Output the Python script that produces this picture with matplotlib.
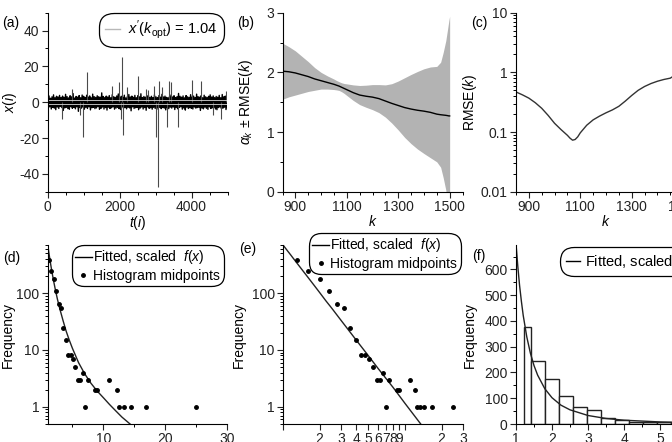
import numpy as np
import matplotlib.pyplot as plt
from matplotlib.lines import Line2D
from matplotlib.ticker import MultipleLocator, FixedLocator, NullFormatter, FuncFormatter

plt.rcParams['font.family'] = ['Liberation Sans', 'DejaVu Sans']
plt.rcParams['mathtext.fontset'] = 'custom'
plt.rcParams['mathtext.rm'] = 'Liberation Sans'
plt.rcParams['mathtext.it'] = 'Liberation Sans:italic'
plt.rcParams['axes.unicode_minus'] = False
plt.rcParams['font.size'] = 10

# (a) time series: background noise samples and the large excursions
noise = [
    2.8, -3.1, 3.5, -2.6, 2.2, -3.8, 3.0, -2.9, 4.1, -3.3, 2.5, -4.2, 3.3, -2.7, 2.9, -3.5,
    3.8, -2.4, 2.6, -3.0, 3.4, -4.6, 2.7, -3.2, 4.4, -2.8, 3.1, -3.6, 2.4, -3.9, 3.6, -2.5,
    3.0, -3.4, 4.8, -2.9, 2.3, -3.7, 3.2, -2.6, 2.8, -5.1, 3.7, -3.0, 2.5, -3.3, 4.0, -2.7,
    3.3, -3.9, 2.6, -2.8, 3.9, -3.5, 2.9, -2.6, 3.5, -4.3, 2.4, -3.1, 4.5, -2.9, 3.1, -3.6,
    2.7, -3.2, 3.6, -2.5, 3.0, -4.0, 2.8, -3.4, 5.2, -2.7, 3.2, -3.8, 2.6, -3.0, 3.4, -4.4,
    2.9, -2.8, 3.7, -3.5, 2.5, -3.1, 4.2, -2.6, 3.0, -3.9, 2.7, -3.3, 3.5, -2.9, 4.6, -3.6,
    2.6, -4.1, 3.3, -2.7, 2.8, -3.4, 3.9, -3.0, 2.4, -3.7, 3.1, -2.8, 4.3, -3.2, 2.9, -4.8,
    3.4, -2.6, 2.7, -3.5, 3.8, -3.1, 2.5, -2.9, 3.6, -4.2, 3.0, -3.3, 4.7, -2.7, 2.6, -3.8,
    3.2, -3.0, 2.8, -4.5, 3.5, -2.6, 3.9, -3.4, 2.7, -3.1, 3.3, -3.9, 2.5, -2.8, 4.1, -3.5,
    3.0, -3.2, 2.6, -4.0, 3.7, -2.9, 2.8, -3.6, 4.4, -3.0, 2.9, -3.3, 3.4, -4.3, 2.7, -3.1,
    2.5, -3.6, 3.2, -2.8, 4.0, -3.3, 2.9, -2.7, 3.6, -4.1, 2.6, -3.0, 3.1, -3.7, 4.9, -2.9,
    3.3, -2.6, 2.8, -3.9, 3.5, -3.2, 2.4, -4.4, 3.7, -2.8, 3.0, -3.5, 2.7, -3.1, 4.2, -3.4,
    2.9, -3.8, 3.4, -2.7, 2.6, -3.3, 4.5, -3.0, 3.1, -2.9, 2.8, -4.6, 3.6, -3.2, 2.5, -3.7,
    3.9, -2.8, 3.0, -3.4, 2.7, -4.0, 3.3, -2.6, 4.1, -3.5, 2.9, -3.1, 3.5, -2.9, 2.6, -3.8,
    3.2, -4.2, 2.8, -3.0, 3.8, -2.7, 2.5, -3.6, 4.3, -3.3, 3.0, -2.8, 3.4, -4.1, 2.9, -3.2,
]
spike_t = [408, 668, 900, 993, 1104, 1781, 1994, 2045, 2069, 2106, 2199, 2523, 2727, 2800,
           2959, 3015, 3080, 3108, 3182, 3330, 3386, 3432, 3627, 4008, 4267, 4610, 4815, 4953]
spike_x = [-9.3, 7.4, -7.4, -19.5, 17.1, 9.0, 11.2, -9.3, 25.5, -18.6, 8.7, 14.5, 7.4, 7.0,
           9.3, -19.2, -47.4, 12.0, 8.4, -13.6, 12.0, 11.2, -14.0, 12.6, 12.0, -7.4, -9.3, 6.5]
x_opt = 1.04

# (b), (c) estimator versus k
k_vals = [850, 875, 900, 925, 950, 975, 1000, 1025, 1050, 1060, 1070, 1080, 1090, 1100,
          1125, 1150, 1175, 1200, 1225, 1250, 1275, 1300, 1325, 1350, 1375, 1400, 1425,
          1450, 1465, 1475, 1485, 1492, 1497, 1500]
alpha_k = [2.02, 2.01, 1.99, 1.96, 1.93, 1.89, 1.86, 1.83, 1.80, 1.785, 1.77, 1.75, 1.73, 1.71,
           1.66, 1.62, 1.60, 1.585, 1.56, 1.52, 1.48, 1.445, 1.41, 1.385, 1.365, 1.35, 1.33,
           1.30, 1.29, 1.285, 1.28, 1.275, 1.27, 1.27]
rmse_k = [0.47, 0.42, 0.37, 0.31, 0.25, 0.19, 0.14, 0.11, 0.088, 0.079, 0.073, 0.075, 0.083, 0.097,
          0.13, 0.16, 0.185, 0.21, 0.235, 0.27, 0.33, 0.41, 0.50, 0.58, 0.65, 0.71, 0.76,
          0.80, 0.88, 1.05, 1.25, 1.45, 1.60, 1.67]

# (d)-(f) histogram of the tail
bin_lo = [1.22, 1.41, 1.80, 2.19, 2.58, 2.97, 3.36, 3.75, 4.14, 4.53, 4.92, 5.31, 5.70,
          6.09, 6.48, 6.87, 7.26, 8.43, 8.82, 10.77, 11.94, 12.33, 13.11, 14.28, 16.62, 24.81]
bin_hi = [1.41, 1.80, 2.19, 2.58, 2.97, 3.36, 3.75, 4.14, 4.53, 4.92, 5.31, 5.70, 6.09,
          6.48, 6.87, 7.26, 7.65, 8.82, 9.21, 11.16, 12.33, 12.72, 13.50, 14.67, 17.01, 25.20]
counts = [375, 245, 175, 110, 65, 55, 24, 15, 8, 8, 7, 5, 3, 3, 4, 1, 3, 2, 2, 3, 2, 1, 1, 1, 1, 1]

# fitted curves
d_fit_x = [1.05, 1.2, 1.4, 1.6, 1.8, 2.0, 2.3, 2.6, 3.0, 3.5, 4.0, 4.5, 5.0, 6.0, 7.0,
           8.0, 9.0, 10.0, 11.0, 12.0, 13.0, 14.3]
d_fit_y = [700, 530, 380, 280, 210, 160, 110, 78, 52, 33, 21.5, 15, 10.8, 6.0, 3.8,
           2.6, 1.9, 1.45, 1.1, 0.85, 0.66, 0.5]
fit_x = [1.0, 1.05, 1.1, 1.15, 1.2, 1.3, 1.4, 1.5, 1.6, 1.8, 2.0, 2.25, 2.5, 3.0, 3.5, 4.0,
         5.0, 6.0, 8.0, 10.0, 13.5]
fit_y = [700, 612, 537, 476, 422, 338, 275, 227, 190, 137, 102, 73, 55, 33, 21.5, 14.8,
         8.0, 4.8, 2.2, 1.16, 0.5]

W, H = 672, 442
fig = plt.figure(figsize=(W / 100, H / 100), dpi=100)


def add_panel(left, top, w=180, h=179):
    ax = fig.add_axes([left / W, (H - top - h) / H, w / W, h / H])
    for s in ('top', 'right'):
        ax.spines[s].set_visible(False)
    for s in ('left', 'bottom'):
        ax.spines[s].set_linewidth(0.8)
    ax.tick_params(which='major', direction='out', length=4, width=0.8, pad=2, labelsize=10,
                   colors='#222222')
    ax.tick_params(which='minor', direction='out', length=2, width=0.7)
    return ax


def pill_legend(ax, handles, labels, loc, anchor, rounding=1.0, hl=1.1, htp=0.3, bp=0.35,
                fs=10.5):
    leg = ax.legend(handles, labels, loc=loc, bbox_to_anchor=anchor, borderaxespad=0,
                    fontsize=fs, handlelength=hl, handletextpad=htp, labelspacing=0.15,
                    borderpad=bp, frameon=True, fancybox=True, framealpha=1)
    fr = leg.get_frame()
    fr.set_edgecolor('black')
    fr.set_linewidth(0.9)
    fr.set_boxstyle('round', pad=0, rounding_size=rounding)
    return leg


def panel_letter(x, y, s):
    fig.text(x / W, 1 - y / H, s, fontsize=10, ha='left', va='center')


fmt_g = FuncFormatter(lambda v, p: '%g' % v)

# (a)
ax = add_panel(47.5, 12.7)
ax.plot(np.linspace(0, 5000, len(noise)), noise, color='black', lw=1.0)
ax.vlines(spike_t, 0, spike_x, color='#4a4a4a', lw=0.8)
ax.axhline(x_opt, color='#d8d8d8', lw=0.6)
ax.axhline(-x_opt, color='#d8d8d8', lw=0.6)
ax.set_xlim(0, 5000)
ax.set_ylim(-50, 50)
ax.xaxis.set_major_locator(MultipleLocator(2000))
ax.xaxis.set_minor_locator(MultipleLocator(500))
ax.yaxis.set_major_locator(MultipleLocator(20))
ax.yaxis.set_minor_locator(MultipleLocator(10))
ax.set_xlabel('$t$($i$)', labelpad=0)
ax.set_ylabel('$x$($i$)')
ax.yaxis.set_label_coords(-0.161, 0.5)
pill_legend(ax, [Line2D([], [], color='#b8b8b8', lw=1)], [r"$x'(k_{\rm opt})$ = 1.04"],
            'upper right', (0.978, 1.0), hl=1.0, htp=0.6, bp=0.4)
panel_letter(2, 23, '(a)')

# (b)
ax = add_panel(282.5, 12.7)
lo = np.array(alpha_k) - np.array(rmse_k)
hi = np.array(alpha_k) + np.array(rmse_k)
ax.fill_between(k_vals, lo, hi, color='#b3b3b3', lw=0)
ax.plot(k_vals, alpha_k, color='black', lw=1)
ax.set_xlim(850, 1550)
ax.set_ylim(0, 3)
ax.xaxis.set_major_locator(FixedLocator([900, 1100, 1300, 1500]))
ax.xaxis.set_minor_locator(MultipleLocator(50))
ax.yaxis.set_major_locator(MultipleLocator(1))
ax.yaxis.set_minor_locator(MultipleLocator(0.5))
ax.set_xlabel('$k$', labelpad=0)
ax.set_ylabel(r'$\alpha_k$ ± RMSE($k$)')
ax.yaxis.set_label_coords(-0.153, 0.5)
panel_letter(237, 23, '(b)')

# (c)
ax = add_panel(516, 12.7)
ax.plot(k_vals, rmse_k, color='#333333', lw=1)
ax.set_yscale('log')
ax.set_xlim(850, 1550)
ax.set_ylim(0.01, 10)
ax.xaxis.set_major_locator(FixedLocator([900, 1100, 1300, 1500]))
ax.xaxis.set_minor_locator(MultipleLocator(50))
ax.yaxis.set_major_formatter(fmt_g)
ax.yaxis.set_minor_formatter(NullFormatter())
ax.set_xlabel('$k$', labelpad=0)
ax.set_ylabel('RMSE($k$)')
ax.yaxis.set_label_coords(-0.206, 0.5)
panel_letter(471, 23, '(c)')

mids = (np.array(bin_lo) + np.array(bin_hi)) / 2
fit_label = 'Fitted, scaled  $f$($x$)'
h_fit = Line2D([], [], color='black', lw=1)
h_pts = Line2D([], [], color='black', ls='none', marker='o', ms=2.5)

# (d)
ax = add_panel(47.5, 245)
ax.plot(d_fit_x, d_fit_y, color='#222222', lw=1)
ax.plot(mids, counts, 'o', color='black', ms=2.5)
ax.set_yscale('log')
ax.set_xlim(1, 30)
ax.set_ylim(0.5, 700)
ax.xaxis.set_major_locator(MultipleLocator(10))
ax.xaxis.set_minor_locator(MultipleLocator(5))
ax.yaxis.set_major_formatter(fmt_g)
ax.yaxis.set_minor_formatter(NullFormatter())
ax.set_ylabel('Frequency')
ax.yaxis.set_label_coords(-0.179, 0.5)
pill_legend(ax, [h_fit, h_pts], [fit_label, 'Histogram midpoints'], 'upper right',
            (0.978, 1.0), rounding=0.9, hl=1.2, htp=0.1, bp=0.25, fs=10)
panel_letter(3, 258, '(d)')

# (e)
ax = add_panel(283, 245)
ax.plot(fit_x, fit_y, color='#222222', lw=1)
ax.plot(mids, counts, 'o', color='black', ms=2.5)
ax.set_xscale('log')
ax.set_yscale('log')
ax.set_xlim(1, 30)
ax.set_ylim(0.5, 700)
e_ticks = [1, 2, 3, 4, 5, 6, 7, 8, 9, 10, 20, 30]
e_labels = ['', '2', '3', '4', '5', '6', '7', '8', '9', '', '2', '3']
ax.xaxis.set_major_locator(FixedLocator(e_ticks))
ax.set_xticklabels(e_labels)
ax.xaxis.set_minor_formatter(NullFormatter())
ax.tick_params(axis='x', which='minor', length=0)
ax.yaxis.set_major_formatter(fmt_g)
ax.yaxis.set_minor_formatter(NullFormatter())
ax.set_ylabel('Frequency')
ax.yaxis.set_label_coords(-0.206, 0.5)
pill_legend(ax, [h_fit, h_pts], [fit_label, 'Histogram midpoints'], 'upper left',
            (0.144, 1.067), rounding=0.9, hl=1.2, htp=0.1, bp=0.25, fs=10)
panel_letter(239, 249, '(e)')

# (f)
ax = add_panel(516, 245)
ax.bar(bin_lo, counts, width=np.array(bin_hi) - np.array(bin_lo), align='edge',
       facecolor='white', edgecolor='#222222', lw=1)
ax.plot(fit_x, fit_y, color='#222222', lw=1)
ax.set_xlim(1, 6)
ax.set_ylim(0, 695)
ax.xaxis.set_major_locator(MultipleLocator(1))
ax.xaxis.set_minor_locator(MultipleLocator(0.5))
ax.yaxis.set_major_locator(MultipleLocator(100))
ax.yaxis.set_minor_locator(MultipleLocator(50))
ax.set_ylabel('Frequency')
ax.yaxis.set_label_coords(-0.218, 0.5)
pill_legend(ax, [h_fit], [fit_label], 'upper left', (0.243, 0.99), hl=1.0, htp=0.3, bp=0.4)
panel_letter(472, 256, '(f)')

fig.savefig('out.png', dpi=100)
